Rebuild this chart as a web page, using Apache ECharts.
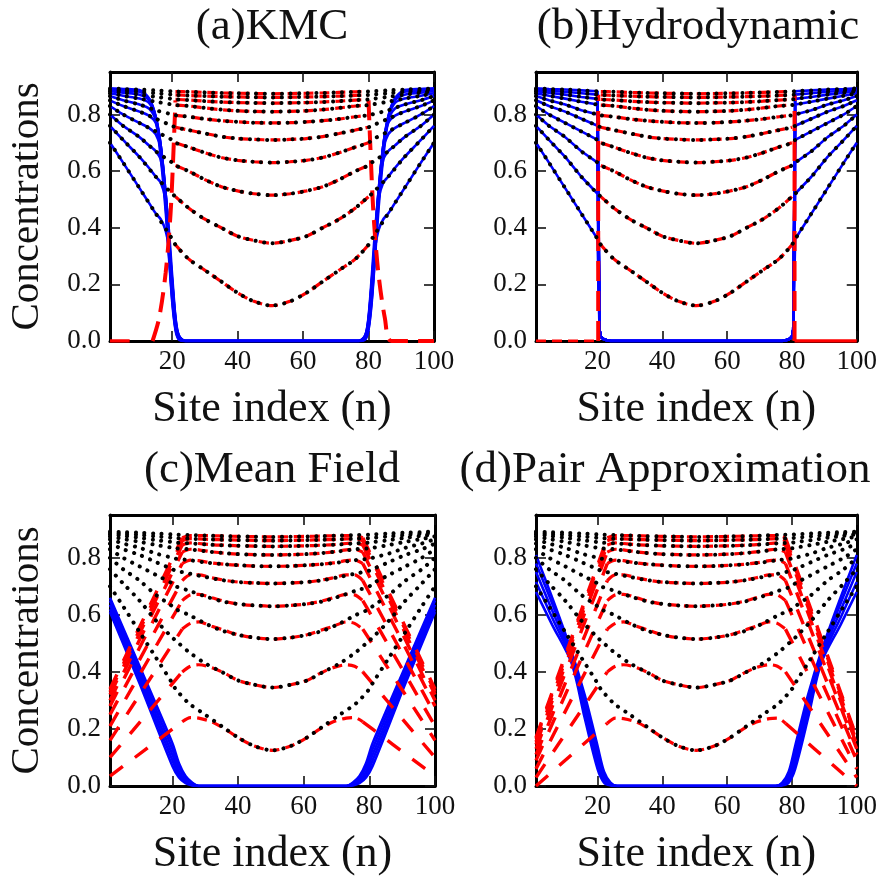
<!DOCTYPE html>
<html><head><meta charset="utf-8">
<script src="https://cdn.jsdelivr.net/npm/echarts@6/dist/echarts.min.js"></script>
<style>html,body{margin:0;padding:0;background:#fff}#c{width:880px;height:877px}</style>
</head><body><div id="c"></div>
<script>
// ---------------- data ----------------
const TITLES = ['(a)KMC', '(b)Hydrodynamic', '(c)Mean Field', '(d)Pair Approximation'];
const X_NAME = 'Site index (n)';
const Y_NAME = 'Concentrations';
const X_TICKS = [20, 40, 60, 80, 100];
const Y_TICKS = [0, 0.2, 0.4, 0.6, 0.8];

// black dotted: total concentration at successive times
const SITE_GRID = [1,5,10,15,20,21,25,30,35,40,45,50.5,56,61,66,71,76,80,81,86,91,96,100];
const KMC_TOTAL = [
 [0.70,0.63,0.54,0.45,0.36,0.34,0.29,0.25,0.21,0.17,0.14,0.125,0.14,0.17,0.21,0.25,0.29,0.34,0.36,0.45,0.54,0.63,0.70],
 [0.76,0.71,0.65,0.58,0.52,0.51,0.47,0.43,0.40,0.37,0.355,0.345,0.355,0.37,0.40,0.43,0.47,0.51,0.52,0.58,0.65,0.71,0.76],
 [0.80,0.76,0.72,0.67,0.63,0.62,0.60,0.57,0.545,0.53,0.52,0.515,0.52,0.53,0.545,0.57,0.60,0.62,0.63,0.67,0.72,0.76,0.80],
 [0.83,0.80,0.77,0.74,0.71,0.70,0.685,0.665,0.648,0.638,0.633,0.63,0.633,0.638,0.648,0.665,0.685,0.70,0.71,0.74,0.77,0.80,0.83],
 [0.85,0.83,0.81,0.785,0.76,0.755,0.745,0.733,0.722,0.715,0.712,0.71,0.712,0.715,0.722,0.733,0.745,0.755,0.76,0.785,0.81,0.83,0.85],
 [0.865,0.85,0.835,0.815,0.80,0.797,0.792,0.784,0.778,0.774,0.771,0.77,0.771,0.774,0.778,0.784,0.792,0.797,0.80,0.815,0.835,0.85,0.865],
 [0.875,0.866,0.856,0.845,0.835,0.833,0.83,0.823,0.817,0.813,0.811,0.81,0.811,0.813,0.817,0.823,0.83,0.833,0.835,0.845,0.856,0.866,0.875],
 [0.882,0.877,0.87,0.862,0.855,0.853,0.851,0.847,0.844,0.842,0.841,0.84,0.841,0.842,0.844,0.847,0.851,0.853,0.855,0.862,0.87,0.877,0.882],
 [0.887,0.884,0.88,0.875,0.87,0.869,0.867,0.865,0.863,0.862,0.861,0.86,0.861,0.862,0.863,0.865,0.867,0.869,0.87,0.875,0.88,0.884,0.887],
 [0.892,0.89,0.888,0.885,0.882,0.881,0.88,0.878,0.876,0.875,0.874,0.873,0.874,0.875,0.876,0.878,0.88,0.881,0.882,0.885,0.888,0.89,0.892]
];

// (a) KMC: blue species
const A_BLUE_GRID = [1,5,10,13,15,16.5,18,19,20,21,22,24,77,79,80,81,82,83,84.5,86,88,91,96,100];
const A_BLUE = [
 [0.70,0.63,0.54,0.486,0.45,0.43,0.39,0.33,0.21,0.08,0.02,0,0,0.02,0.08,0.21,0.33,0.39,0.43,0.45,0.486,0.54,0.63,0.70],
 [0.76,0.71,0.65,0.61,0.58,0.56,0.50,0.39,0.23,0.085,0.02,0,0,0.02,0.085,0.23,0.39,0.50,0.56,0.58,0.61,0.65,0.71,0.76],
 [0.80,0.76,0.72,0.69,0.67,0.64,0.52,0.37,0.21,0.075,0.018,0,0,0.018,0.075,0.21,0.37,0.52,0.64,0.67,0.69,0.72,0.76,0.80],
 [0.83,0.80,0.77,0.752,0.73,0.68,0.52,0.36,0.20,0.07,0.015,0,0,0.015,0.07,0.20,0.36,0.52,0.68,0.73,0.752,0.77,0.80,0.83],
 [0.85,0.83,0.81,0.795,0.77,0.69,0.52,0.35,0.19,0.065,0.014,0,0,0.014,0.065,0.19,0.35,0.52,0.69,0.77,0.795,0.81,0.83,0.85],
 [0.865,0.85,0.835,0.82,0.78,0.69,0.51,0.34,0.18,0.06,0.012,0,0,0.012,0.06,0.18,0.34,0.51,0.69,0.78,0.82,0.835,0.85,0.865],
 [0.875,0.866,0.856,0.84,0.79,0.69,0.50,0.33,0.17,0.055,0.01,0,0,0.01,0.055,0.17,0.33,0.50,0.69,0.79,0.84,0.856,0.866,0.875],
 [0.882,0.877,0.87,0.85,0.79,0.68,0.49,0.32,0.16,0.05,0.01,0,0,0.01,0.05,0.16,0.32,0.49,0.68,0.79,0.85,0.87,0.877,0.882],
 [0.887,0.884,0.88,0.855,0.79,0.67,0.48,0.31,0.15,0.045,0.008,0,0,0.008,0.045,0.15,0.31,0.48,0.67,0.79,0.855,0.88,0.884,0.887],
 [0.892,0.89,0.886,0.855,0.78,0.65,0.46,0.30,0.14,0.04,0.006,0,0,0.006,0.04,0.14,0.30,0.46,0.65,0.78,0.855,0.886,0.89,0.892]
];
// (a) red species entering the outer regions
const A_RED_ZERO_X = [1, 7];
const A_RED_ZERO_V = [0, 0];
const A_RED_LEFT_X = [14, 16, 18, 19.5, 20.5, 21];
const A_RED_LEFT_V = [0, 0.08, 0.24, 0.45, 0.70, 0.85];
const A_RED_RIGHT_X = [80, 80.5, 81.5, 83, 85, 87, 100];
const A_RED_RIGHT_V = [0.85, 0.70, 0.45, 0.24, 0.08, 0, 0];

// (b) Hydrodynamic
const B_BLUE_TAIL_X = [20.6, 21, 22, 24, 77, 79, 80, 80.4];
const B_BLUE_TAIL_V = [0.04, 0.015, 0.005, 0, 0, 0.005, 0.015, 0.04];
const B_RED_WALL_X = [20.2, 80.8];
const B_RED_WALL_V = [0, 0.87];
const B_RED_ZERO_L = [1, 20.2];
const B_RED_ZERO_R = [80.8, 100];

// (c) Mean Field
const C_BLUE_GRID = [1,10,20,22,24,26,28,73,75,77,79,81,91,100];
const C_BLUE = [
 [0.66,0.42,0.15,0.08,0.035,0.012,0,0,0.012,0.035,0.08,0.15,0.42,0.66],
 [0.65,0.405,0.13,0.065,0.028,0.009,0,0,0.009,0.028,0.065,0.13,0.405,0.65],
 [0.635,0.39,0.11,0.05,0.02,0.006,0,0,0.006,0.02,0.05,0.11,0.39,0.635],
 [0.62,0.375,0.09,0.038,0.014,0.004,0,0,0.004,0.014,0.038,0.09,0.375,0.62],
 [0.61,0.36,0.07,0.03,0.01,0.002,0,0,0.002,0.01,0.03,0.07,0.36,0.61]
];
const RED_GRID_CD = [1,8,14,20,23,25.5,28,32,36,40,45,50.5,56,61,65,69,73,75.5,78,81,87,93,100];
const C_RED = [
 [0.035,0.095,0.147,0.199,0.225,0.24,0.238,0.225,0.20,0.17,0.14,0.125,0.14,0.17,0.20,0.225,0.238,0.24,0.225,0.199,0.147,0.095,0.035],
 [0.10,0.195,0.277,0.359,0.40,0.42,0.425,0.415,0.395,0.37,0.355,0.345,0.355,0.37,0.395,0.415,0.425,0.42,0.40,0.359,0.277,0.195,0.10],
 [0.16,0.284,0.39,0.497,0.55,0.57,0.575,0.56,0.545,0.53,0.52,0.515,0.52,0.53,0.545,0.56,0.575,0.57,0.55,0.497,0.39,0.284,0.16],
 [0.21,0.35,0.47,0.59,0.65,0.67,0.672,0.66,0.647,0.638,0.633,0.63,0.633,0.638,0.647,0.66,0.672,0.67,0.65,0.59,0.47,0.35,0.21],
 [0.25,0.40,0.528,0.656,0.72,0.74,0.74,0.73,0.721,0.715,0.712,0.71,0.712,0.715,0.721,0.73,0.74,0.74,0.72,0.656,0.528,0.40,0.25],
 [0.28,0.439,0.575,0.712,0.78,0.792,0.79,0.782,0.777,0.774,0.771,0.77,0.771,0.774,0.777,0.782,0.79,0.792,0.78,0.712,0.575,0.439,0.28],
 [0.30,0.465,0.607,0.749,0.82,0.83,0.828,0.821,0.816,0.813,0.811,0.81,0.811,0.813,0.816,0.821,0.828,0.83,0.82,0.749,0.607,0.465,0.30],
 [0.32,0.487,0.63,0.774,0.845,0.852,0.85,0.846,0.844,0.842,0.841,0.84,0.841,0.842,0.844,0.846,0.85,0.852,0.845,0.774,0.63,0.487,0.32],
 [0.33,0.499,0.643,0.788,0.86,0.867,0.866,0.864,0.863,0.862,0.861,0.86,0.861,0.862,0.863,0.864,0.866,0.867,0.86,0.788,0.643,0.499,0.33],
 [0.34,0.509,0.653,0.798,0.87,0.878,0.878,0.877,0.876,0.875,0.874,0.873,0.874,0.875,0.876,0.877,0.878,0.878,0.87,0.798,0.653,0.509,0.34]
];

// (d) Pair Approximation
const D_BLUE_GRID = [1,6,12,16,20,22,24,26,75,77,79,81,85,89,95,100];
const D_BLUE = [
 [0.81,0.66,0.47,0.32,0.14,0.05,0.012,0,0,0.012,0.05,0.14,0.32,0.47,0.66,0.81],
 [0.78,0.64,0.46,0.30,0.12,0.04,0.009,0,0,0.009,0.04,0.12,0.30,0.46,0.64,0.78],
 [0.75,0.615,0.45,0.28,0.10,0.03,0.006,0,0,0.006,0.03,0.10,0.28,0.45,0.615,0.75],
 [0.715,0.59,0.44,0.26,0.08,0.02,0.004,0,0,0.004,0.02,0.08,0.26,0.44,0.59,0.715],
 [0.68,0.565,0.43,0.24,0.06,0.012,0.002,0,0,0.002,0.012,0.06,0.24,0.43,0.565,0.68]
];
const D_RED = [
 [0.0,0.07,0.13,0.19,0.22,0.238,0.236,0.224,0.20,0.17,0.14,0.125,0.14,0.17,0.20,0.224,0.236,0.238,0.22,0.19,0.13,0.07,0.0],
 [0.03,0.148,0.249,0.35,0.40,0.42,0.425,0.415,0.395,0.37,0.355,0.345,0.355,0.37,0.395,0.415,0.425,0.42,0.40,0.35,0.249,0.148,0.03],
 [0.06,0.216,0.35,0.483,0.55,0.57,0.575,0.56,0.545,0.53,0.52,0.515,0.52,0.53,0.545,0.56,0.575,0.57,0.55,0.483,0.35,0.216,0.06],
 [0.09,0.268,0.421,0.574,0.65,0.67,0.672,0.66,0.647,0.638,0.633,0.63,0.633,0.638,0.647,0.66,0.672,0.67,0.65,0.574,0.421,0.268,0.09],
 [0.11,0.304,0.47,0.637,0.72,0.74,0.74,0.73,0.721,0.715,0.712,0.71,0.712,0.715,0.721,0.73,0.74,0.74,0.72,0.637,0.47,0.304,0.11],
 [0.13,0.337,0.514,0.691,0.78,0.792,0.79,0.782,0.777,0.774,0.771,0.77,0.771,0.774,0.777,0.782,0.79,0.792,0.78,0.691,0.514,0.337,0.13],
 [0.145,0.36,0.544,0.728,0.82,0.83,0.828,0.821,0.816,0.813,0.811,0.81,0.811,0.813,0.816,0.821,0.828,0.83,0.82,0.728,0.544,0.36,0.145],
 [0.155,0.375,0.563,0.751,0.845,0.852,0.85,0.846,0.844,0.842,0.841,0.84,0.841,0.842,0.844,0.846,0.85,0.852,0.845,0.751,0.563,0.375,0.155],
 [0.165,0.386,0.576,0.765,0.86,0.867,0.866,0.864,0.863,0.862,0.861,0.86,0.861,0.862,0.863,0.864,0.866,0.867,0.86,0.765,0.576,0.386,0.165],
 [0.17,0.393,0.584,0.774,0.87,0.878,0.878,0.877,0.876,0.875,0.874,0.873,0.874,0.875,0.876,0.877,0.878,0.878,0.87,0.774,0.584,0.393,0.17]
];

// ---------------- layout & style ----------------
const FONT = 'Liberation Serif';
const INK = '#111';
const GRIDS = [
  {left: 110, top: 72, width: 324, height: 269},
  {left: 536, top: 72, width: 325, height: 269},
  {left: 110, top: 515, width: 325, height: 271},
  {left: 536, top: 515, width: 325, height: 271}
];
const Y_MAX = 0.95;

const BLACK = {color: '#000', width: 4, type: [0.1, 8.5], cap: 'round'};
const RED = {color: '#ff0000', width: 3.2, type: [10, 6]};
const RED_OUTER = {color: '#ff0000', width: 3.4, type: [16, 15]};
const RED_LONG = {color: '#ff0000', width: 4, type: [20, 10]};
const RED_SOLID = {color: '#ff0000', width: 3.6};
const BLUE = {color: '#0000ff', width: 2.6};

const pairs = (xs, vs) => xs.map((x, i) => [x, vs[i]]);
function line(p, data, ls, z, smooth) {
  return {type: 'line', xAxisIndex: p * 2, yAxisIndex: p * 2, data, symbol: 'none',
    smooth: smooth || false, lineStyle: ls, z, silent: true, animation: false, clip: true};
}

const series = [];
// black totals in every panel
for (let p = 0; p < 4; p++) KMC_TOTAL.forEach(v => series.push(line(p, pairs(SITE_GRID, v), BLACK, 5, 0.3)));
// (a)
A_BLUE.forEach(v => series.push(line(0, pairs(A_BLUE_GRID, v), BLUE, 2, 0.3)));
KMC_TOTAL.forEach(v => series.push(line(0, pairs(SITE_GRID.slice(5, 18), v.slice(5, 18)), RED, 3, 0.3)));
series.push(line(0, pairs(A_RED_ZERO_X, A_RED_ZERO_V), RED_SOLID, 3));
series.push(line(0, pairs(A_RED_LEFT_X, A_RED_LEFT_V), RED_LONG, 3, 0.3));
series.push(line(0, pairs(A_RED_RIGHT_X, A_RED_RIGHT_V), RED_LONG, 3, 0.3));
// (b)
KMC_TOTAL.forEach(v => {
  const d = pairs(SITE_GRID.slice(0, 5), v.slice(0, 5))
    .concat(pairs(B_BLUE_TAIL_X, B_BLUE_TAIL_V))
    .concat(pairs(SITE_GRID.slice(18), v.slice(18)));
  series.push(line(1, d, BLUE, 2));
  series.push(line(1, pairs(SITE_GRID.slice(5, 18), v.slice(5, 18)), RED, 3, 0.3));
});
B_RED_WALL_X.forEach(x => series.push(line(1, [[x, B_RED_WALL_V[0]], [x, B_RED_WALL_V[1]]], RED_LONG, 4)));
series.push(line(1, [[B_RED_ZERO_L[0], 0], [B_RED_ZERO_L[1], 0]], RED, 3));
series.push(line(1, [[B_RED_ZERO_R[0], 0], [B_RED_ZERO_R[1], 0]], RED_SOLID, 3));
// (c) and (d): red split in outer-left, middle and outer-right parts
function redCD(p, arr) {
  arr.forEach(v => {
    series.push(line(p, pairs(RED_GRID_CD.slice(0, 5), v.slice(0, 5)), RED_OUTER, 3));
    series.push(line(p, pairs(RED_GRID_CD.slice(4, 19), v.slice(4, 19)), RED, 3, 0.3));
    series.push(line(p, pairs(RED_GRID_CD.slice(18), v.slice(18)), RED_OUTER, 3));
  });
}
C_BLUE.forEach(v => series.push(line(2, pairs(C_BLUE_GRID, v), BLUE, 2, 0.3)));
redCD(2, C_RED);
D_BLUE.forEach(v => series.push(line(3, pairs(D_BLUE_GRID, v), BLUE, 2, 0.3)));
redCD(3, D_RED);

// axes
const xAxis = [], yAxis = [];
const tick = {inside: true, length: 10, lineStyle: {color: INK, width: 1.6}};
const frame = {show: true, onZero: false, lineStyle: {color: '#000', width: 3}};
for (let p = 0; p < 4; p++) {
  const base = {gridIndex: p, type: 'value', splitLine: {show: false}};
  xAxis.push(Object.assign({}, base, {min: 1, max: 100, position: 'bottom', axisLine: frame,
    axisTick: Object.assign({customValues: X_TICKS}, tick),
    axisLabel: {customValues: X_TICKS, fontFamily: FONT, fontSize: 27, color: INK, margin: 7},
    name: X_NAME, nameLocation: 'middle', nameGap: 46,
    nameTextStyle: {fontFamily: FONT, fontSize: 44, color: INK}}));
  xAxis.push(Object.assign({}, base, {min: 1, max: 100, position: 'top', axisLine: frame,
    axisTick: Object.assign({customValues: X_TICKS}, tick), axisLabel: {show: false}}));
  const yl = Object.assign({}, base, {min: 0, max: Y_MAX, position: 'left', axisLine: frame,
    axisTick: Object.assign({customValues: Y_TICKS}, tick),
    axisLabel: {customValues: Y_TICKS, formatter: v => v.toFixed(1), fontFamily: FONT, fontSize: 27, color: INK, margin: 9}});
  if (p % 2 === 0) Object.assign(yl, {name: Y_NAME, nameLocation: 'middle', nameGap: 62,
    nameTextStyle: {fontFamily: FONT, fontSize: 41, color: INK}});
  yAxis.push(yl);
  yAxis.push(Object.assign({}, base, {min: 0, max: Y_MAX, position: 'right', axisLine: frame,
    axisTick: Object.assign({customValues: Y_TICKS}, tick), axisLabel: {show: false}}));
}

const TITLE_POS = [[272, 27], [698, 27], [272, 470], [665, 470]];
const graphic = TITLES.map((t, i) => ({type: 'text', x: TITLE_POS[i][0], y: TITLE_POS[i][1], silent: true,
  style: {text: t, fill: INK, fontSize: 45, fontFamily: FONT, align: 'center', verticalAlign: 'middle'}}));

const chart = echarts.init(document.getElementById('c'), null, {renderer: 'canvas'});
chart.setOption({
  animation: false, backgroundColor: '#fff',
  grid: GRIDS.map(g => Object.assign({containLabel: false}, g)),
  xAxis, yAxis, series, graphic
});
</script></body></html>
